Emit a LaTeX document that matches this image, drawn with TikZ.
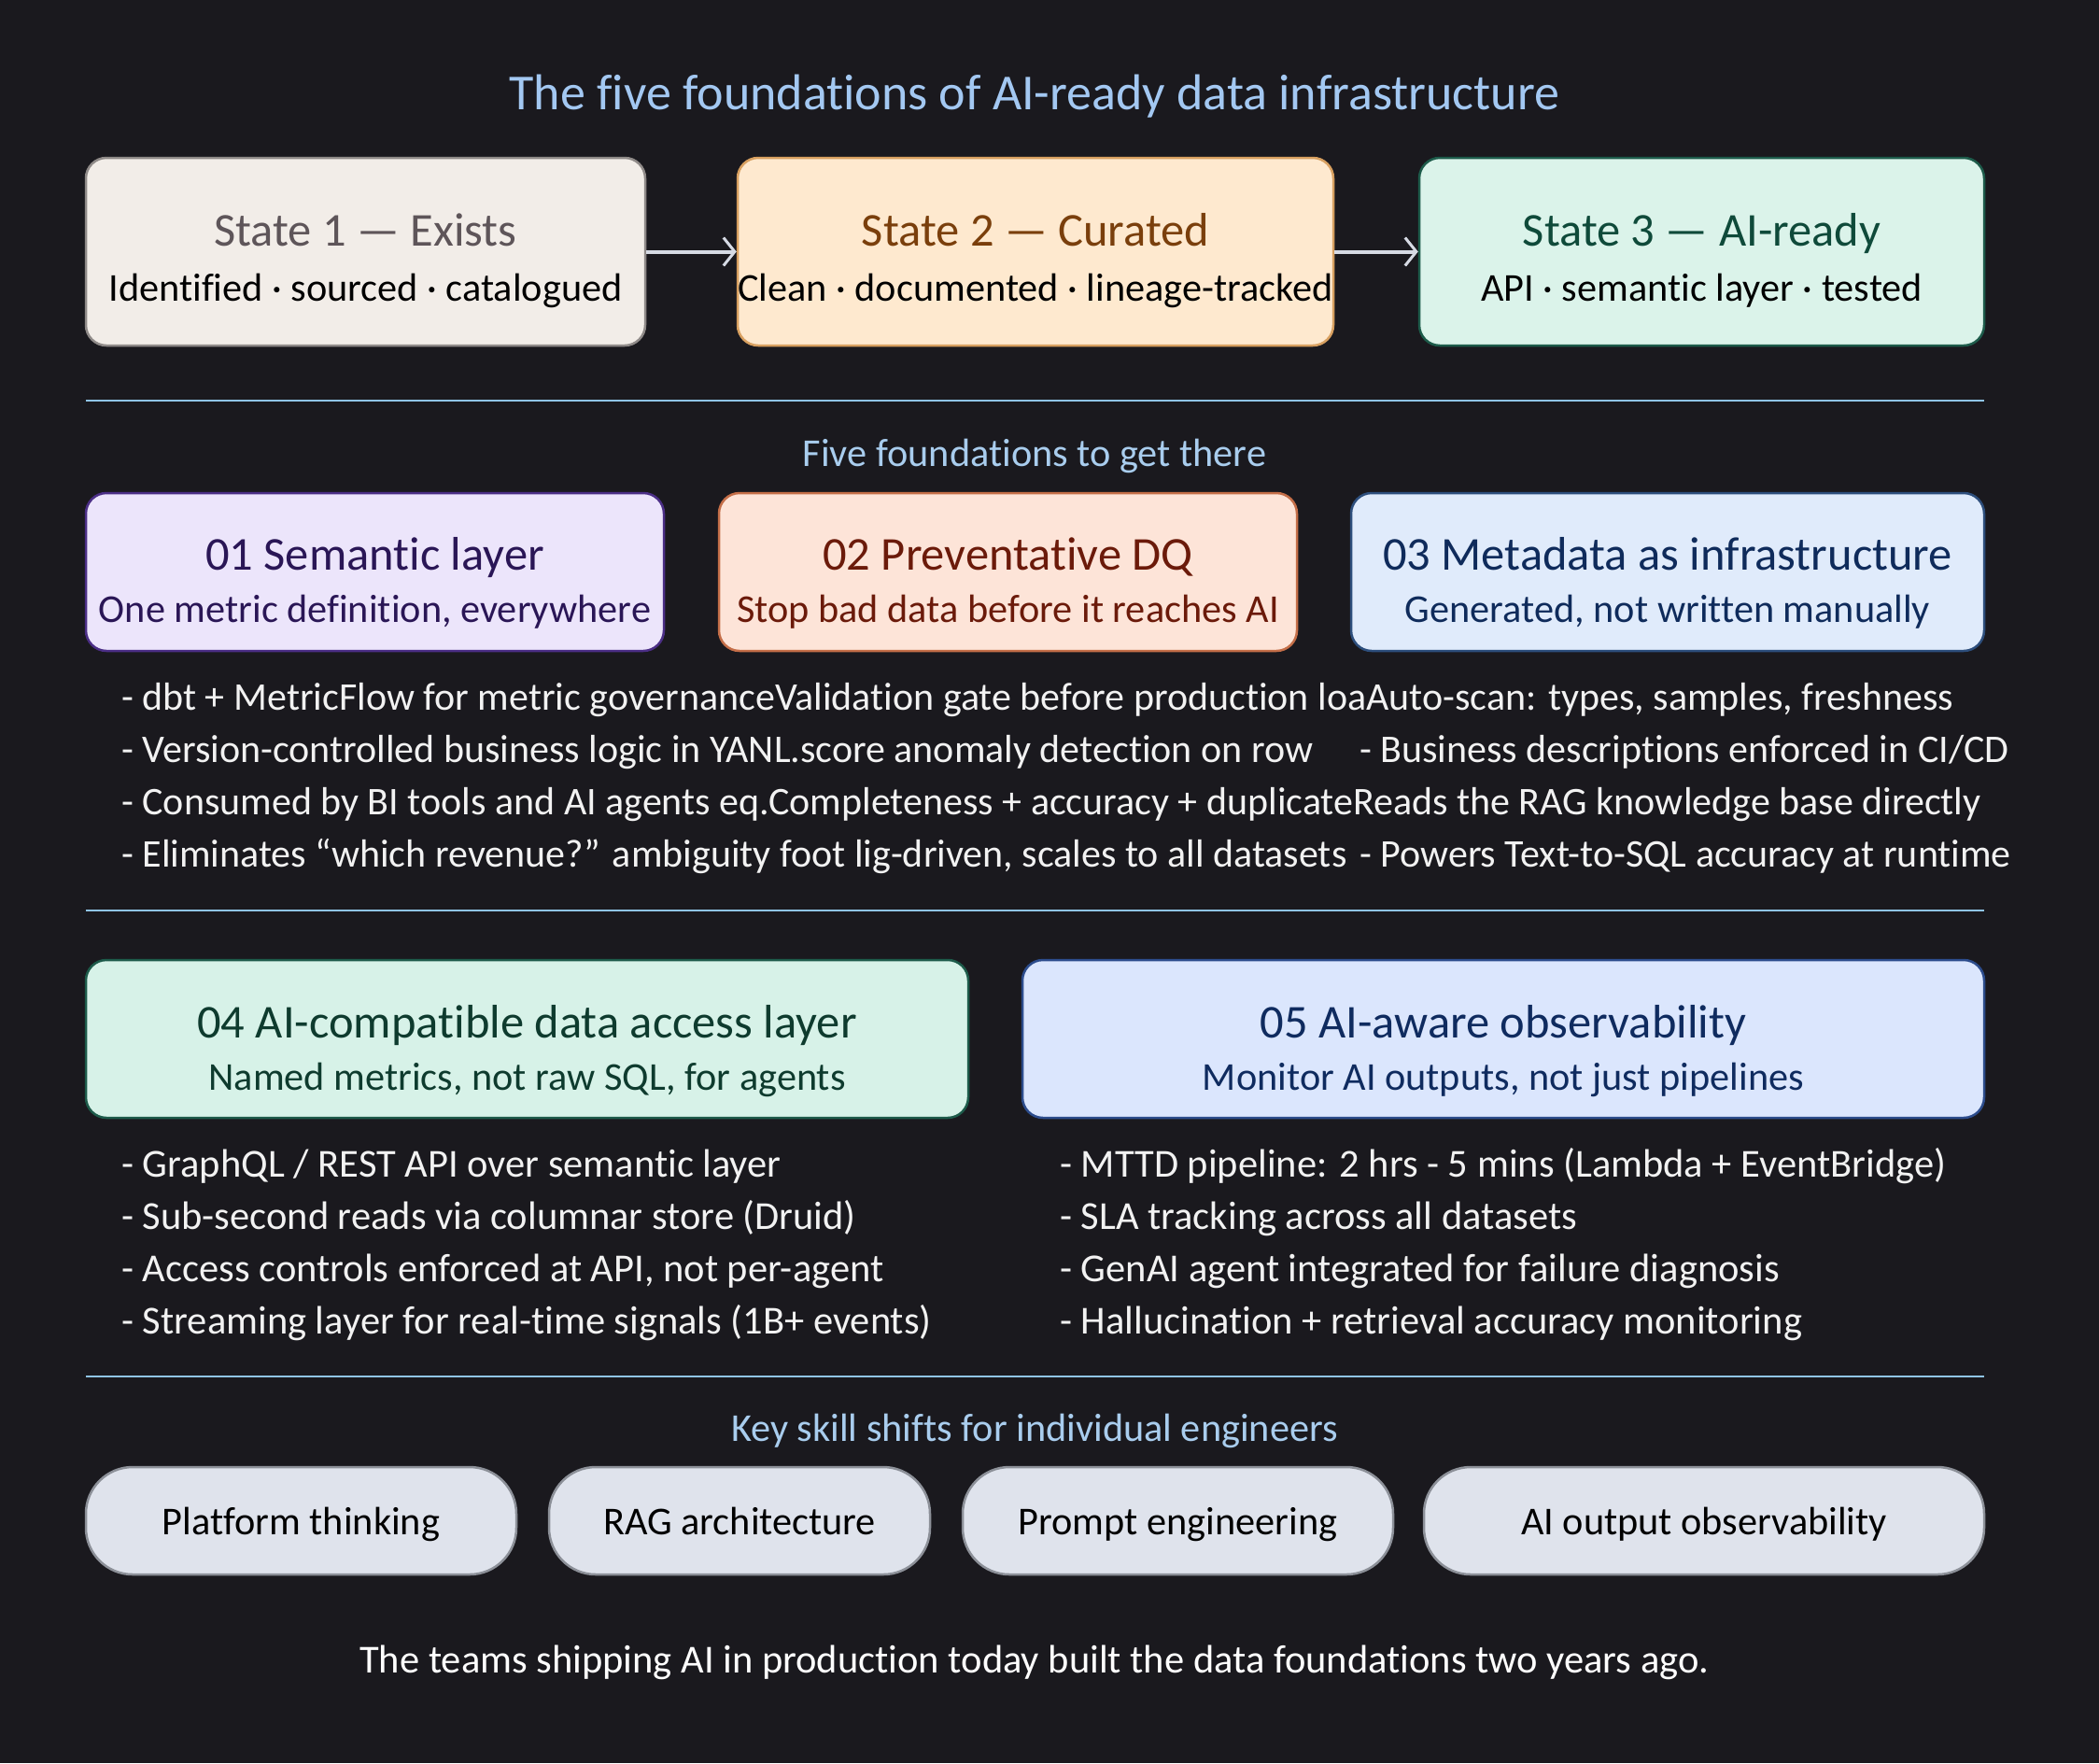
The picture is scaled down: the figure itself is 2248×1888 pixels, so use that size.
\documentclass[tikz,border=0pt]{standalone}
\usepackage{fontspec}
\setmainfont[Ligatures={TeX,NoCommon}]{Carlito}
\usetikzlibrary{arrows.meta}
\definecolor{bg}{HTML}{1A191E}
\definecolor{titleblue}{HTML}{A3C8F2}
\definecolor{subblue}{HTML}{A9CDEE}
\definecolor{rulec}{HTML}{8FC4E6}
\definecolor{arrc}{HTML}{D6DAE4}
\definecolor{bullc}{HTML}{F2F2F2}
\definecolor{sonefill}{HTML}{F2EDE8}\definecolor{sonedraw}{HTML}{8F8A88}\definecolor{sonetext}{HTML}{5E5559}
\definecolor{stwofill}{HTML}{FEE9CF}\definecolor{stwodraw}{HTML}{D8A060}\definecolor{stwotext}{HTML}{7A3F0C}
\definecolor{sthrfill}{HTML}{DBF3EA}\definecolor{sthrdraw}{HTML}{1D5B4A}\definecolor{sthrtext}{HTML}{0F4A3A}
\definecolor{fonefill}{HTML}{ECE5FB}\definecolor{fonedraw}{HTML}{4B2E86}\definecolor{fonetext}{HTML}{2A1656}
\definecolor{ftwofill}{HTML}{FDE4D8}\definecolor{ftwodraw}{HTML}{C46E48}\definecolor{ftwotext}{HTML}{6B1A0A}
\definecolor{fthrfill}{HTML}{E0EBFB}\definecolor{fthrdraw}{HTML}{2D4E7C}\definecolor{fthrtext}{HTML}{0F2B5B}
\definecolor{ffoufill}{HTML}{D7F2E8}\definecolor{ffoudraw}{HTML}{1D5B4A}\definecolor{ffoutext}{HTML}{0E3B2E}
\definecolor{ffivfill}{HTML}{DBE6FD}\definecolor{ffivdraw}{HTML}{2C4C8C}\definecolor{ffivtext}{HTML}{0F2B5F}
\definecolor{pillfill}{HTML}{DFE3EC}\definecolor{pilldraw}{HTML}{8C9098}
\tikzset{
  boxshape/.style={rectangle, rounded corners=22pt, line width=2.5pt, inner sep=0pt},
  pillshape/.style={rectangle, rounded corners=50pt, line width=2.5pt, inner sep=0pt, fill=pillfill, draw=pilldraw, minimum height=115pt},
  bigtxt/.style={font=\fontsize{50.5}{60}\selectfont, anchor=base, inner sep=0pt},
  midtxt/.style={font=\fontsize{42.3}{50}\selectfont, anchor=base, inner sep=0pt},
  bul/.style={font=\fontsize{42.5}{50}\selectfont, anchor=base west, inner sep=0pt, text=bullc},
  bulm/.style={font=\fontsize{42}{50}\selectfont, anchor=base west, inner sep=0pt, text=bullc},
  rulestyle/.style={draw=rulec, line width=2.5pt},
  arr/.style={draw=arrc, line width=4pt, -{Straight Barb[length=12pt,width=30pt,line width=3pt]}}
}
\begin{document}
\begin{tikzpicture}[x=1pt,y=-1pt]
\fill[bg] (0,0) rectangle (2248,1888);
\useasboundingbox (0,0) rectangle (2248,1888);

% main title
\node[font=\fontsize{54}{64}\selectfont, anchor=base, inner sep=0pt, text=titleblue] (title) at (1108,117) {The five foundations of AI-ready data infrastructure};

% states
\node[boxshape, fill=sonefill, draw=sonedraw, minimum width=599pt, minimum height=201pt] (s1) at (391.5,269.5) {};
\node[boxshape, fill=stwofill, draw=stwodraw, minimum width=638pt, minimum height=201pt] (s2) at (1109,269.5) {};
\node[boxshape, fill=sthrfill, draw=sthrdraw, minimum width=605pt, minimum height=201pt] (s3) at (1822.5,269.5) {};
\node[bigtxt, text=sonetext] (s1t) at (391.5,263) {State 1 — Exists};
\node[midtxt, text=black] (s1s) at (391.5,322) {Identified · sourced · catalogued};
\node[bigtxt, text=stwotext] (s2t) at (1109,263) {State 2 — Curated};
\node[midtxt, text=black] (s2s) at (1109,322) {Clean · documented · lineage-tracked};
\node[bigtxt, text=sthrtext] (s3t) at (1822.5,263) {State 3 — AI-ready};
\node[midtxt, text=black] (s3s) at (1822.5,322) {API · semantic layer · tested};
\draw[arr] (s1.east) -- (s2.west);
\draw[arr] (s2.east) -- (s3.west);

% rule 1
\coordinate (ra1) at (92,429); \coordinate (ra2) at (2125,429);
\draw[rulestyle] (ra1) -- (ra2);
\node[midtxt, text=subblue] (fivehead) at (1108,499) {Five foundations to get there};

% foundations 1-3
\node[boxshape, fill=fonefill, draw=fonedraw, minimum width=619pt, minimum height=169pt] (f1) at (401.5,612.5) {};
\node[boxshape, fill=ftwofill, draw=ftwodraw, minimum width=619pt, minimum height=169pt] (f2) at (1079.5,612.5) {};
\node[boxshape, fill=fthrfill, draw=fthrdraw, minimum width=678pt, minimum height=169pt] (f3) at (1786,612.5) {};
\node[bigtxt, text=fonetext] (f1t) at (401.5,610) {01 Semantic layer};
\node[midtxt, text=fonetext] (f1s) at (401.5,666) {One metric definition, everywhere};
\node[bigtxt, text=ftwotext] (f2t) at (1079.5,610) {02 Preventative DQ};
\node[midtxt, text=ftwotext] (f2s) at (1079.5,666) {Stop bad data before it reaches AI};
\node[bigtxt, text=fthrtext] (f3t) at (1786,610) {03 Metadata as infrastructure};
\node[midtxt, text=fthrtext] (f3s) at (1786,666) {Generated, not written manually};

% bullets rows (as printed)
\node[bulm] (r1a) at (130,760) {- dbt + MetricFlow for metric governanceValidation gate before production loaAuto-scan: types, samples, freshness};
\node[bulm] (r2a) at (130,816) {- Version-controlled business logic in YANL.score anomaly detection on row};
\node[bulm] (r2c) at (1456,816) {- Business descriptions enforced in CI/CD};
\node[bulm] (r3a) at (130,872) {- Consumed by BI tools and AI agents eq.Completeness + accuracy + duplicateReads the RAG knowledge base directly};
\node[bulm] (r4a) at (130,928) {- Eliminates “which revenue?” ambiguity foot lig-driven, scales to all datasets};
\node[bulm] (r4c) at (1456,928) {- Powers Text-to-SQL accuracy at runtime};

% rule 2
\coordinate (rb1) at (92,975); \coordinate (rb2) at (2125,975);
\draw[rulestyle] (rb1) -- (rb2);

% foundations 4-5
\node[boxshape, fill=ffoufill, draw=ffoudraw, minimum width=945pt, minimum height=169pt] (f4) at (564.5,1112.5) {};
\node[boxshape, fill=ffivfill, draw=ffivdraw, minimum width=1030pt, minimum height=169pt] (f5) at (1610,1112.5) {};
\node[bigtxt, text=ffoutext] (f4t) at (564.5,1111) {04 AI-compatible data access layer};
\node[midtxt, text=ffoutext] (f4s) at (564.5,1167) {Named metrics, not raw SQL, for agents};
\node[bigtxt, text=ffivtext] (f5t) at (1610,1111) {05 AI-aware observability};
\node[midtxt, text=ffivtext] (f5s) at (1610,1167) {Monitor AI outputs, not just pipelines};

\node[bul] (b1a) at (130,1260) {- GraphQL / REST API over semantic layer};
\node[bul] (b2a) at (130,1316) {- Sub-second reads via columnar store (Druid)};
\node[bul] (b3a) at (130,1372) {- Access controls enforced at API, not per-agent};
\node[bul] (b4a) at (130,1428) {- Streaming layer for real-time signals (1B+ events)};
\node[bul] (b1b) at (1135,1260) {- MTTD pipeline: 2 hrs - 5 mins (Lambda + EventBridge)};
\node[bul] (b2b) at (1135,1316) {- SLA tracking across all datasets};
\node[bul] (b3b) at (1135,1372) {- GenAI agent integrated for failure diagnosis};
\node[bul] (b4b) at (1135,1428) {- Hallucination + retrieval accuracy monitoring};

% rule 3
\coordinate (rc1) at (92,1474); \coordinate (rc2) at (2125,1474);
\draw[rulestyle] (rc1) -- (rc2);
\node[midtxt, text=subblue] (skillhead) at (1108,1543) {Key skill shifts for individual engineers};

% pills
\node[pillshape, minimum width=461pt] (p1) at (322.5,1628.5) {};
\node[pillshape, minimum width=408pt] (p2) at (792,1628.5) {};
\node[pillshape, minimum width=461pt] (p3) at (1261.5,1628.5) {};
\node[pillshape, minimum width=600pt] (p4) at (1825,1628.5) {};
\node[midtxt, text=black] (p1t) at (322.5,1643) {Platform thinking};
\node[midtxt, text=black] (p2t) at (792,1643) {RAG architecture};
\node[midtxt, text=black] (p3t) at (1261.5,1643) {Prompt engineering};
\node[midtxt, text=black] (p4t) at (1825,1643) {AI output observability};

% footer
\node[font=\fontsize{42.5}{50}\selectfont, anchor=base, inner sep=0pt, text=white] (footer) at (1108,1791) {The teams shipping AI in production today built the data foundations two years ago.};
\end{tikzpicture}
\end{document}
